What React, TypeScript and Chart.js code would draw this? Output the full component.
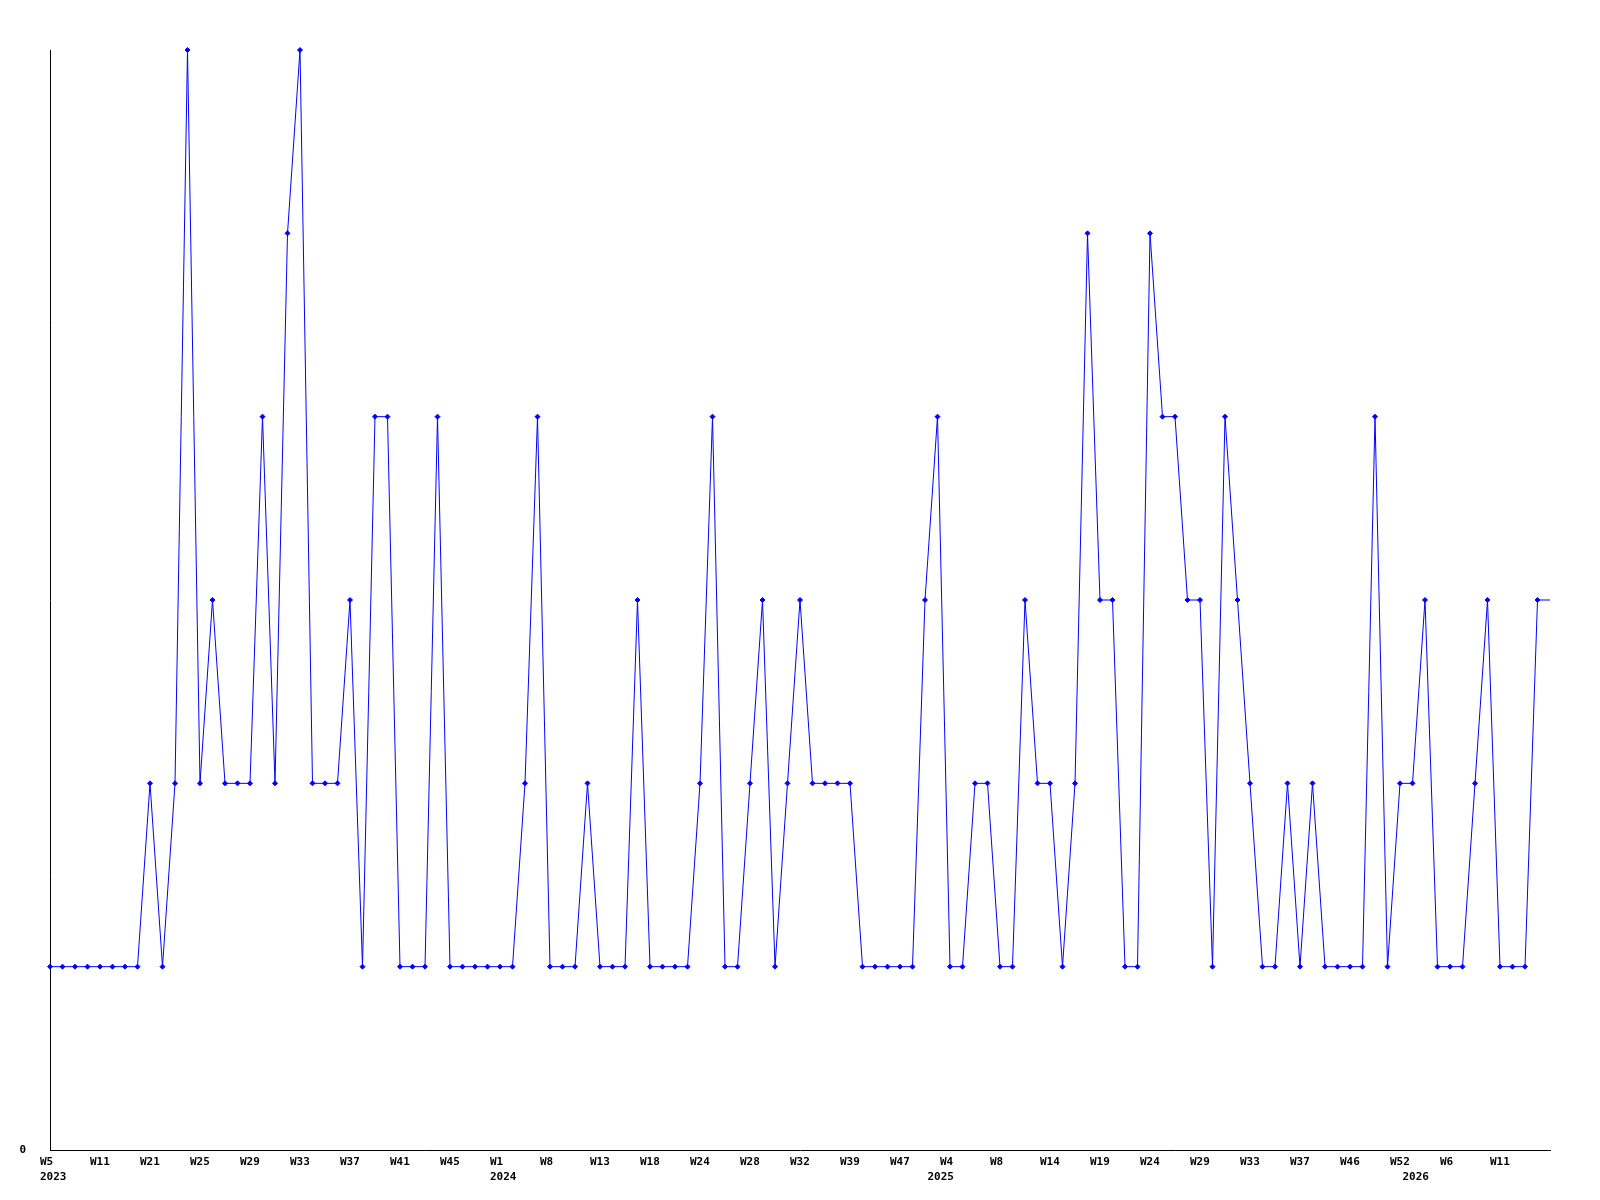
import { useEffect, useRef } from 'react';
import { Chart, registerables } from 'chart.js';

Chart.register(...registerables);

// Category per data point: "year week"
const categories: string[] = [
  '2023 W5', '2023 W6', '2023 W7', '2023 W9',
  '2023 W11', '2023 W13', '2023 W16', '2023 W19',
  '2023 W21', '2023 W22', '2023 W23', '2023 W24',
  '2023 W25', '2023 W26', '2023 W27', '2023 W28',
  '2023 W29', '2023 W30', '2023 W31', '2023 W32',
  '2023 W33', '2023 W34', '2023 W35', '2023 W36',
  '2023 W37', '2023 W38', '2023 W39', '2023 W40',
  '2023 W41', '2023 W42', '2023 W43', '2023 W44',
  '2023 W45', '2023 W46', '2023 W48', '2023 W51',
  '2024 W1', '2024 W3', '2024 W5', '2024 W7',
  '2024 W8', '2024 W9', '2024 W11', '2024 W12',
  '2024 W13', '2024 W14', '2024 W16', '2024 W17',
  '2024 W18', '2024 W20', '2024 W21', '2024 W23',
  '2024 W24', '2024 W25', '2024 W26', '2024 W27',
  '2024 W28', '2024 W29', '2024 W30', '2024 W31',
  '2024 W32', '2024 W34', '2024 W36', '2024 W37',
  '2024 W39', '2024 W41', '2024 W43', '2024 W45',
  '2024 W47', '2024 W49', '2024 W51',
  '2025 W2', '2025 W4', '2025 W5', '2025 W6', '2025 W7',
  '2025 W8', '2025 W10', '2025 W11', '2025 W13',
  '2025 W14', '2025 W15', '2025 W17', '2025 W18',
  '2025 W19', '2025 W20', '2025 W22', '2025 W23',
  '2025 W24', '2025 W25', '2025 W26', '2025 W28',
  '2025 W29', '2025 W30', '2025 W31', '2025 W32',
  '2025 W33', '2025 W34', '2025 W35', '2025 W36',
  '2025 W37', '2025 W39', '2025 W41', '2025 W44',
  '2025 W46', '2025 W48', '2025 W50', '2025 W51',
  '2025 W52',
  '2026 W2', '2026 W3', '2026 W5',
  '2026 W6', '2026 W7', '2026 W8', '2026 W10',
  '2026 W11', '2026 W12', '2026 W13', '2026 W14',
  '2026 W15',
];

const values: number[] = [
  1, 1, 1, 1, 1, 1, 1, 1,
  2, 1, 2, 6, 2, 3, 2, 2,
  2, 4, 2, 5, 6, 2, 2, 2,
  3, 1, 4, 4, 1, 1, 1, 4,
  1, 1, 1, 1, 1, 1, 2, 4,
  1, 1, 1, 2, 1, 1, 1, 3,
  1, 1, 1, 1, 2, 4, 1, 1,
  2, 3, 1, 2, 3, 2, 2, 2,
  2, 1, 1, 1, 1, 1, 3, 4,
  1, 1, 2, 2, 1, 1, 3, 2,
  2, 1, 2, 5, 3, 3, 1, 1,
  5, 4, 4, 3, 3, 1, 4, 3,
  2, 1, 1, 2, 1, 2, 1, 1,
  1, 1, 4, 1, 2, 2, 3, 1,
  1, 1, 2, 3, 1, 1, 1, 3,
  3,
];

const yTickLabels: string[] = ['0'];
const weekLabelEvery = 4;

const FONT = { family: '"DejaVu Sans Mono", monospace', size: 11, weight: 'bold' as const, lineHeight: 15 / 11 };

export default function App() {
  const ref = useRef<HTMLCanvasElement | null>(null);

  useEffect(() => {
    document.body.style.margin = '0';
    const canvas = ref.current;
    if (!canvas) return;
    const last = categories.length - 1;
    const chart = new Chart(canvas, {
      type: 'line',
      data: {
        labels: categories,
        datasets: [
          {
            data: values,
            borderColor: '#0000ff',
            backgroundColor: '#0000ff',
            borderWidth: 1,
            tension: 0,
            fill: false,
            clip: false,
            pointStyle: 'rectRot',
            pointRadius: values.map((_, i) => (i === last ? 0 : 2.5)),
            pointBorderWidth: 1,
            pointBorderColor: '#0000ff',
            pointBackgroundColor: '#0000ff',
          },
        ],
      },
      options: {
        responsive: false,
        animation: false,
        devicePixelRatio: 1,
        layout: { padding: { top: 50, right: 50, left: 0, bottom: 0 } },
        plugins: { legend: { display: false }, tooltip: { enabled: false } },
        scales: {
          x: {
            type: 'category',
            offset: false,
            grid: { display: false, drawTicks: false },
            border: { display: true, color: '#000000', width: 1 },
            afterFit: (s: any) => {
              s.height = 50;
            },
            ticks: {
              autoSkip: false,
              maxRotation: 0,
              minRotation: 0,
              align: 'start',
              labelOffset: -10,
              padding: 5,
              color: '#000000',
              font: FONT,
              callback: (_v: any, index: number) => {
                const [yr, wk] = categories[index].split(' ');
                const prevYr = index > 0 ? categories[index - 1].split(' ')[0] : '';
                const showWeek = index % weekLabelEvery === 0 && index < last;
                const showYear = yr !== prevYr;
                if (!showWeek && !showYear) return '';
                return [showWeek ? wk : '', showYear ? yr : ''];
              },
            },
          },
          y: {
            min: 0,
            max: 6,
            grid: { display: false, drawTicks: false },
            border: { display: true, color: '#000000', width: 1 },
            afterFit: (s: any) => {
              s.width = 50;
            },
            ticks: {
              stepSize: 1,
              padding: 24,
              color: '#000000',
              font: FONT,
              callback: (v: any) => (v === 0 ? yTickLabels[0] : ''),
            },
          },
        },
      },
    });
    return () => chart.destroy();
  }, []);

  return <canvas ref={ref} width={1600} height={1200} style={{ display: 'block' }} />;
}
